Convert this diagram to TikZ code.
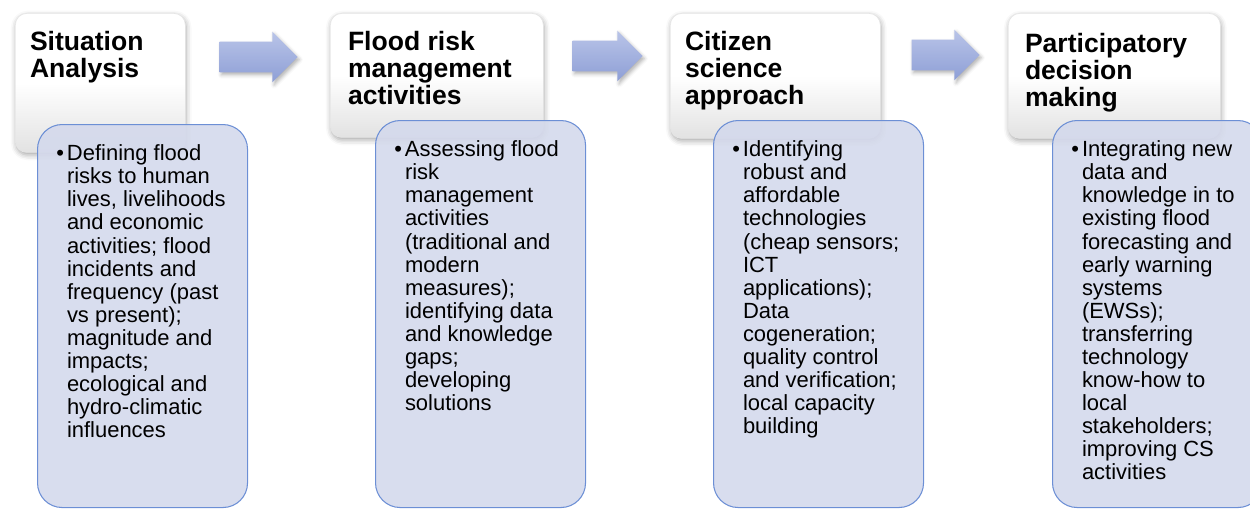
\documentclass[tikz,border=0pt]{standalone}
\usepackage{fontspec}
\setmainfont{Liberation Sans}
\usetikzlibrary{shapes.arrows, positioning, shadows.blur}
\definecolor{listfill}{HTML}{D4D9EC}
\definecolor{listedge}{HTML}{6C8FD5}
\definecolor{arrowtop}{HTML}{B9C4E8}
\definecolor{arrowbot}{HTML}{8E9FD6}
\definecolor{headgray}{HTML}{E2E2E2}

\begin{document}
\begin{tikzpicture}[
    headbox/.style={rectangle, rounded corners=6.5pt, anchor=north west,
                    draw=black!10, top color=white, bottom color=headgray, middle color=white,
                    blur shadow={shadow xshift=0.5pt, shadow yshift=-1.5pt,
                                 shadow blur radius=3pt, shadow opacity=35}},
    listbox/.style={rectangle, rounded corners=14pt, anchor=north west,
                    draw=listedge, line width=0.6pt, fill=listfill, fill opacity=0.9,
                    minimum width=4.2cm},
    flowarrow/.style={single arrow, single arrow head extend=0.2cm, single arrow tip angle=90,
                      minimum width=1.0cm, inner xsep=0pt, inner ysep=0.3cm, draw=none,
                      top color=arrowtop, bottom color=arrowbot,
                      blur shadow={shadow xshift=1pt, shadow yshift=-1.5pt,
                                   shadow blur radius=2pt, shadow opacity=30}},
    headtext/.style={inner sep=0pt, outer sep=0pt, align=left,
                     font=\fontsize{15.1pt}{15.4pt}\selectfont\bfseries},
    listtext/.style={inner sep=0pt, outer sep=0pt, align=left,
                     font=\fontsize{12.5pt}{13.1pt}\selectfont}
]
\useasboundingbox (0,0) rectangle (25,-10.16);
\clip (0,0) rectangle (25,-10.16);

% title boxes
\node[headbox, minimum width=3.40cm, minimum height=2.78cm] (situation)     at (0.30,-0.26)  {};
\node[headbox, minimum width=4.26cm, minimum height=2.48cm] (floodrisk)     at (6.60,-0.26)  {};
\node[headbox, minimum width=4.20cm, minimum height=2.50cm] (citizen)       at (13.40,-0.26) {};
\node[headbox, minimum width=4.24cm, minimum height=2.50cm] (participatory) at (20.16,-0.26) {};

\node[headtext, below right=0.37cm and 0.30cm of situation.north west]     (situationtitle)     {Situation\\Analysis};
\node[headtext, below right=0.37cm and 0.36cm of floodrisk.north west]     (floodrisktitle)     {Flood risk\\management\\activities};
\node[headtext, below right=0.37cm and 0.30cm of citizen.north west]       (citizentitle)       {Citizen\\science\\approach};
\node[headtext, below right=0.40cm and 0.34cm of participatory.north west] (participatorytitle) {Participatory\\decision\\making};

% bullet boxes
\node[listbox, minimum height=7.66cm] (situationlist)     at (0.74,-2.48)  {};
\node[listbox, minimum height=7.74cm] (floodrisklist)     at (7.50,-2.40)  {};
\node[listbox, minimum height=7.74cm] (citizenlist)       at (14.26,-2.40) {};
\node[listbox, minimum height=7.74cm] (participatorylist) at (21.04,-2.40) {};

\node[listtext, below right=0.42cm and 0.60cm of situationlist.north west] (situationitems)
    {\llap{\textbullet\hspace{0.06cm}}Defining flood\\risks to human\\lives, livelihoods\\and economic\\activities; flood\\
     incidents and\\frequency (past\\vs present);\\magnitude and\\impacts;\\ecological and\\hydro-climatic\\influences};
\node[listtext, below right=0.42cm and 0.60cm of floodrisklist.north west] (floodriskitems)
    {\llap{\textbullet\hspace{0.06cm}}Assessing flood\\risk\\management\\activities\\(traditional and\\modern\\
     measures);\\identifying data\\and knowledge\\gaps;\\developing\\solutions};
\node[listtext, below right=0.42cm and 0.60cm of citizenlist.north west] (citizenitems)
    {\llap{\textbullet\hspace{0.06cm}}Identifying\\robust and\\affordable\\technologies\\(cheap sensors;\\ICT\\
     applications);\\Data\\cogeneration;\\quality control\\and verification;\\local capacity\\building};
\node[listtext, below right=0.42cm and 0.60cm of participatorylist.north west] (participatoryitems)
    {\llap{\textbullet\hspace{0.06cm}}Integrating new\\data and\\knowledge in to\\existing flood\\forecasting and\\
     early warning\\systems\\(EWSs);\\transferring\\technology\\know-how to\\local\\stakeholders;\\
     improving CS\\activities};

% arrows between the steps
\node[flowarrow, minimum height=1.56cm] (toflood)    at (5.02,-1.14)  {};
\node[flowarrow, minimum height=1.40cm] (tocitizen)  at (12.00,-1.12) {};
\node[flowarrow, minimum height=1.36cm] (todecision) at (18.76,-1.10) {};

\end{tikzpicture}
\end{document}
